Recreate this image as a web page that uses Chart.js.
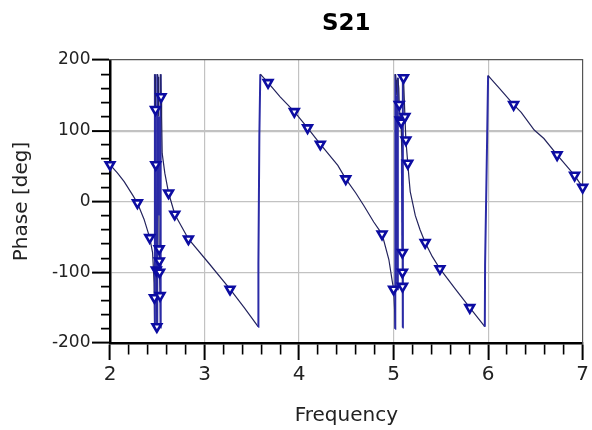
<!DOCTYPE html>
<html>
<head>
<meta charset="utf-8">
<title>S21</title>
<script src="https://cdn.jsdelivr.net/npm/chart.js@4.4.1/dist/chart.umd.min.js"></script>
<style>
  body { margin: 0; background: #fff; }
  #box { width: 592px; height: 430px; }
</style>
</head>
<body>
<div id="box"><canvas id="myChart"></canvas></div>
<script>
// S21 phase trace (GHz, deg)
const freq = [
  2.00, 2.08, 2.15, 2.24, 2.29, 2.36, 2.42, 2.45, 2.46, 2.466,
  2.470, 2.474, 2.475, 2.478, 2.481, 2.484, 2.487, 2.490, 2.493, 2.496,
  2.499, 2.500, 2.508, 2.515, 2.518, 2.520, 2.522, 2.525, 2.530, 2.534,
  2.536, 2.540, 2.546, 2.552, 2.58, 2.62, 2.685, 2.83, 3.05, 3.27,
  3.42, 3.567, 3.570, 3.580, 3.590, 3.672, 3.80, 3.95, 4.09, 4.225,
  4.41, 4.494, 4.60, 4.686, 4.79, 4.878, 4.95, 4.985, 5.000, 5.010,
  5.016, 5.018, 5.026, 5.034, 5.037, 5.045, 5.055, 5.060, 5.070, 5.080,
  5.088, 5.093, 5.094, 5.095, 5.096, 5.098, 5.105, 5.120, 5.130, 5.150,
  5.165, 5.176, 5.23, 5.28, 5.334, 5.41, 5.49, 5.65, 5.806, 5.965, 5.968,
  5.99, 6.00, 6.12, 6.27, 6.35, 6.488, 6.59, 6.73, 6.915, 7.00
]
const phase = [
  52, 40, 28, 9, -2, -25, -51, -72, -96, -115,
  -136, -178, 180, 176, 130, 52, -30, -97, -140, -177,
  -180, 180, 176, 120, -20, -67, -84, -100, -133, -178,
  180, 148, 120, 68, 40, 12, -18, -53, -88, -124,
  -150, -177, -88, 92, 180, 168, 148, 127, 104, 81,
  51, 32, 12, -6, -29, -46, -82, -112, -124, -150,
  -180, 180, 172, 150, -124, 175, 160, 137, 115, 112,
  60, -72, -100, -120, -178, 180, 175, 120, 87, 54,
  30, 14, -20, -40, -58, -78, -95, -123, -150, -177, -90,
  92, 178, 160, 137, 126, 101, 89, 66, 37, 20
]

// triangle markers
const markerFreq = [
  2.00, 2.29, 2.42, 2.470, 2.481, 2.484, 2.490, 2.496, 2.520, 2.522,
  2.525, 2.530, 2.540, 2.62, 2.685, 2.83, 3.27, 3.672, 3.95, 4.09,
  4.225, 4.494, 4.878, 5.000, 5.060, 5.070, 5.080, 5.093, 5.094, 5.095,
  5.105, 5.120, 5.130, 5.150, 5.334, 5.49, 5.806, 6.27, 6.73, 6.915, 7.00
]
const markerPhase = [
  52, -2, -51, -136, 130, 52, -97, -177, -67, -84,
  -100, -133, 148, 12, -18, -53, -124, 168, 127, 104,
  81, 32, -46, -124, 137, 115, 112, -72, -100, -120,
  175, 120, 87, 54, -58, -95, -150, 137, 66, 37, 20
]

const xLabels = [2, 3, 4, 5, 6, 7]
const yLabels = [-200, -100, 0, 100, 200]

// minor ticks every 0.2 on x and 20 on y
const xMinor = []
for (let i = 0; i <= 25; i++) xMinor.push(Math.round((2 + i * 0.2) * 10) / 10)
const yMinor = []
for (let i = 0; i <= 20; i++) yMinor.push(-200 + i * 20)

const isMajor = (list, v) => list.some(m => Math.abs(m - v) < 1e-6)
// steep short segments (phase jumps) are drawn in brighter blue
const isJump = c => Math.abs(c.p1.parsed.y - c.p0.parsed.y) > 60 &&
  Math.abs(c.p1.parsed.x - c.p0.parsed.x) < 0.03

const lineData = freq.map((f, i) => ({ x: f, y: phase[i] }))
const markData = markerFreq.map((f, i) => ({ x: f, y: markerPhase[i] }))

const font = 'DejaVu Sans'

const ctx = document.getElementById('myChart')

new Chart(ctx, {
  type: 'scatter',
  data: {
    datasets: [{
      data: markData,
      showLine: false,
      pointStyle: 'triangle',
      rotation: 180,
      pointRadius: 5,
      pointBorderWidth: 2.6,
      pointBackgroundColor: '#ffffff',
      pointBorderColor: '#0c0ca2',
      clip: false
    }, {
      data: lineData,
      showLine: true,
      pointRadius: 0,
      borderWidth: 1.2,
      borderColor: '#24245e',
      segment: {
        borderColor: c => isJump(c) ? '#2a2aa6' : '#24245e',
        borderWidth: c => isJump(c) ? 2 : 1.2
      },
      clip: 2
    }]
  },
  options: {
    responsive: true,
    maintainAspectRatio: false,
    animation: false,
    layout: { padding: 0, autoPadding: false },
    plugins: {
      legend: { display: false },
      tooltip: { enabled: false },
      title: { display: false }
    },
    scales: {
      x: {
        type: 'linear',
        position: 'bottom',
        min: 2,
        max: 7,
        afterBuildTicks: s => { s.ticks = xMinor.map(v => ({ value: v })) },
        afterFit: s => { s.height = 87 },
        ticks: {
          autoSkip: false,
          maxRotation: 0,
          padding: 3,
          color: '#222',
          font: { family: font, size: 20 },
          callback: v => isMajor(xLabels, v) ? String(Math.round(v)) : ''
        },
        grid: {
          tickLength: 17,
          color: c => (isMajor(xLabels, c.tick.value) && c.tick.value > 2 && c.tick.value < 7) ? '#c2c2c2' : 'rgba(0,0,0,0)',
          lineWidth: 1.2,
          tickColor: '#000',
          tickWidth: c => isMajor(xLabels, c.tick.value) ? 2 : 1.6,
          tickBorderDash: c => isMajor(xLabels, c.tick.value) ? [] : [10, 40]
        },
        border: { color: '#000', width: 2.5 },
        title: {
          display: true,
          text: 'Frequency',
          color: '#222',
          font: { family: font, size: 20 },
          padding: { top: 0, bottom: 2 }
        }
      },
      y: {
        position: 'left',
        min: -200,
        max: 200,
        afterBuildTicks: s => { s.ticks = yMinor.map(v => ({ value: v })) },
        afterFit: s => { s.width = 110 },
        ticks: {
          autoSkip: false,
          padding: 1.5,
          color: '#222',
          font: { family: font, size: 17 },
          callback: v => isMajor(yLabels, v) ? String(v) : ''
        },
        grid: {
          tickLength: 18,
          color: c => (isMajor(yLabels, c.tick.value) && Math.abs(c.tick.value) < 200) ? '#c2c2c2' : 'rgba(0,0,0,0)',
          lineWidth: c => c.tick.value === 100 ? 2.2 : 1.2,
          tickColor: '#000',
          tickWidth: c => isMajor(yLabels, c.tick.value) ? 2 : 1.6,
          tickBorderDash: c => isMajor(yLabels, c.tick.value) ? [] : [0, 9, 9, 40]
        },
        border: { color: '#000', width: 2.5 },
        title: {
          display: true,
          text: 'Phase [deg]',
          color: '#222',
          font: { family: font, size: 20 },
          padding: { top: 10, bottom: 0 }
        }
      },
      x2: {
        type: 'linear',
        position: 'top',
        min: 2,
        max: 7,
        afterFit: s => { s.height = 60 },
        ticks: { display: false },
        grid: { display: false, drawTicks: false },
        border: { color: '#555', width: 1.2 },
        title: {
          display: true,
          text: 'S21',
          color: '#000',
          font: { family: font, size: 23, weight: 'bold' },
          padding: { top: 10, bottom: 0 }
        }
      },
      y2: {
        position: 'right',
        min: -200,
        max: 200,
        afterFit: s => { s.width = 7 },
        ticks: { display: false },
        grid: { display: false, drawTicks: false },
        border: { color: '#555', width: 1.2 }
      }
    }
  }
})
</script>
</body>
</html>
